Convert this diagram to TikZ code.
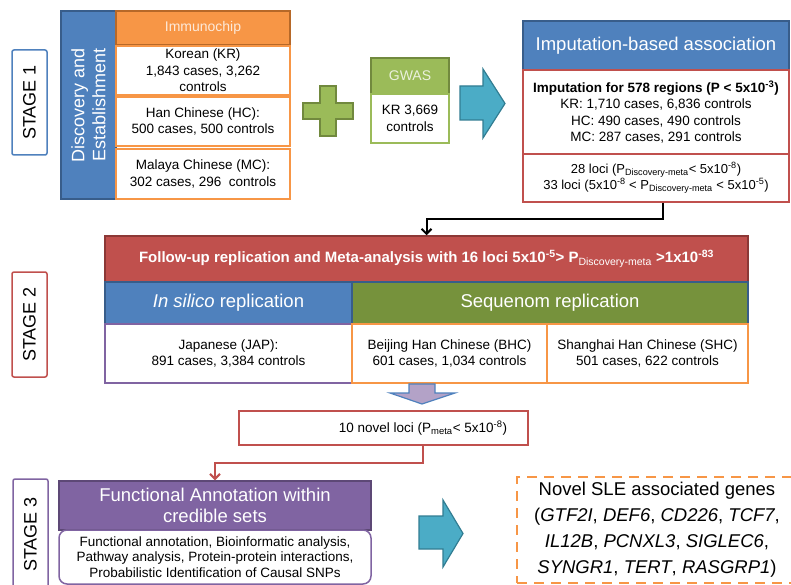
\documentclass[tikz,border=0pt]{standalone}
\usepackage{fontspec}
\setmainfont{Liberation Sans}
\usepackage{tikz}
\usetikzlibrary{arrows.meta,positioning,calc}
\definecolor{skyblue}{RGB}{79,129,189}
\definecolor{deepblue}{RGB}{56,93,138}
\definecolor{tangerine}{RGB}{247,150,70}
\definecolor{rust}{RGB}{182,104,40}
\definecolor{leafy}{RGB}{155,187,89}
\definecolor{moss}{RGB}{113,137,62}
\definecolor{sage}{RGB}{118,146,60}
\definecolor{lagoon}{RGB}{75,172,198}
\definecolor{petrol}{RGB}{49,125,146}
\definecolor{brick}{RGB}{192,80,77}
\definecolor{oxblood}{RGB}{140,56,54}
\definecolor{plum}{RGB}{128,100,162}
\definecolor{aubergine}{RGB}{93,72,118}
\definecolor{lilac}{RGB}{179,162,199}
\definecolor{cream}{RGB}{253,233,217}
\definecolor{mint}{RGB}{235,241,222}

\begin{document}
\begin{tikzpicture}[x=1pt,y=-1pt,
    every node/.style={inner sep=0pt,align=center,line width=1.5pt},
    stagebox/.style={draw,fill=white,rotate=90,rounded corners=2pt,minimum width=105,minimum height=35,font=\fontsize{18}{20}\selectfont},
    headbox/.style={draw,text=white,font=\fontsize{18.5}{21.5}\selectfont},
    cellbox/.style={draw,fill=white,font=\fontsize{13.5}{16.5}\selectfont},
    blockarrow/.style={fill=lagoon,draw=petrol,line width=1.2pt,line join=miter},
    elbow/.style={line width=2pt,-{Straight Barb[length=5pt,width=10pt]}}]
    \useasboundingbox (0,0) rectangle (791,585);

    \node[stagebox,draw=skyblue] (st1) at (29.5,102.5) {STAGE 1};
    \node[headbox,rotate=90,fill=skyblue,draw=deepblue,minimum width=188,minimum height=55,font=\fontsize{18}{21}\selectfont] (disc) at (88.5,105) {Discovery and\\Establishment};
    \node[headbox,fill=tangerine,draw=rust,text=cream,minimum width=174,minimum height=34,font=\fontsize{14}{16}\selectfont] (chip) at (203,28) {Immunochip};
    \foreach \n/\y/\h/\t in {
      kr/70.5/49/{Korean (KR)\\1,843 cases, 3,262\\controls},
      hc/121.5/49/{Han Chinese (HC):\\500 cases, 500 controls},
      mc/174/50/{Malaya Chinese (MC):\\302 cases, 296\ \ controls}}
    {
      \node[cellbox,draw=tangerine,minimum width=174,minimum height=\h] (\n) at (203,\y) {\t};
    }

    \draw[fill=leafy,draw=moss,line width=1.2pt] (320,86) -- (336,86) -- (336,103) -- (353,103) -- (353,119) -- (336,119) -- (336,136) -- (320,136) -- (320,119) -- (303,119) -- (303,103) -- (320,103) -- cycle;

    \node[headbox,fill=leafy,draw=moss,text=mint,minimum width=78,minimum height=36,font=\fontsize{14}{16}\selectfont] (gwas) at (410,76) {GWAS};
    \node[cellbox,draw=leafy,minimum width=78,minimum height=49] (gwaskr) at (410,118.5) {KR 3,669\\controls};

    \draw[blockarrow] (460,86) -- (483,86) -- (483,69) -- (505,103.5) -- (483,138) -- (483,120) -- (460,120) -- cycle;

    \node[headbox,fill=skyblue,draw=deepblue,minimum width=266,minimum height=49] (imp) at (656,45.5) {Imputation-based association};
    \node[cellbox,draw=brick,minimum width=266,minimum height=84] (impreg) at (656,112) {\textbf{Imputation for 578 regions (P < 5x10\textsuperscript{-3})}\\KR: 1,710 cases, 6,836 controls\\HC: 490 cases, 490 controls\\MC: 287 cases, 291 controls};
    \node[cellbox,draw=brick,minimum width=266,minimum height=48,font=\fontsize{13}{15}\selectfont] (imploci) at (656,178) {28 loci (P\textsubscript{Discovery-meta}< 5x10\textsuperscript{-8})\\33 loci (5x10\textsuperscript{-8} < P\textsubscript{Discovery-meta} < 5x10\textsuperscript{-5})};

    \node[stagebox,draw=brick] (st2) at (29.5,324.5) {STAGE 2};
    \node[headbox,fill=brick,draw=oxblood,minimum width=643,minimum height=46,font=\bfseries\fontsize{15}{17}\selectfont] (follow) at (426.5,259) {Follow-up replication and Meta-analysis with 16 loci 5x10\textsuperscript{-5}> P\textsubscript{\mdseries Discovery-meta} >1x10\textsuperscript{-83}};
    \node[headbox,fill=skyblue,draw=deepblue,minimum width=247,minimum height=42] (insilico) at (228.5,303) {\textit{In silico} replication};
    \node[headbox,fill=sage,draw=deepblue,minimum width=396,minimum height=42] (seq) at (550,303) {Sequenom replication};
    \node[cellbox,draw=plum,minimum width=247,minimum height=59] (jap) at (228.5,353.5) {Japanese (JAP):\\891 cases, 3,384 controls};
    \node[cellbox,draw=tangerine,minimum width=195,minimum height=59] (bhc) at (449.5,353.5) {Beijing Han Chinese (BHC)\\601 cases, 1,034 controls};
    \node[cellbox,draw=tangerine,minimum width=201,minimum height=59] (shc) at (647.5,353.5) {Shanghai Han Chinese (SHC)\\501 cases, 622 controls};

    \draw[elbow] ([xshift=7pt]imploci.south) -- ++(0,16) -| (follow.north);

    \draw[fill=lilac,draw=skyblue,line width=1.2pt] (409,384) -- (435,384) -- (435,393) -- (455,393) -- (422,404) -- (390,393) -- (409,393) -- cycle;
    \node[cellbox,draw=brick,minimum width=289,minimum height=34] (loci) at (383.5,428) {\hspace*{79pt}10 novel loci (P\textsubscript{meta}< 5x10\textsuperscript{-8})};

    \node[stagebox,draw=plum,minimum width=111] (st3) at (30.5,534.5) {STAGE 3};
    \node[headbox,fill=plum,draw=aubergine,minimum width=312,minimum height=49] (func) at (215,505.5) {Functional Annotation within\\credible sets};
    \node[cellbox,draw=plum,rounded corners=8pt,minimum width=312,minimum height=54,font=\fontsize{13.5}{15.5}\selectfont] (funcsets) at (215,557) {Functional annotation, Bioinformatic analysis,\\Pathway analysis, Protein-protein interactions,\\Probabilistic Identification of Causal SNPs};

    \draw[elbow,brick] ([xshift=39.5pt]loci.south) -- ++(0,17) -| (func.north);

    \draw[blockarrow] (419,516) -- (443,516) -- (443,500) -- (463,533.5) -- (443,567) -- (443,549) -- (419,549) -- cycle;
    \node[draw=tangerine,dashed,dash pattern=on 10pt off 7pt,minimum width=280,minimum height=106,font=\fontsize{18.5}{26}\selectfont] (genes) at (657,530) {Novel SLE associated genes\\(\textit{GTF2I}, \textit{DEF6}, \textit{CD226}, \textit{TCF7},\\\textit{IL12B}, \textit{PCNXL3}, \textit{SIGLEC6},\\\textit{SYNGR1}, \textit{TERT}, \textit{RASGRP1})};
\end{tikzpicture}
\end{document}
